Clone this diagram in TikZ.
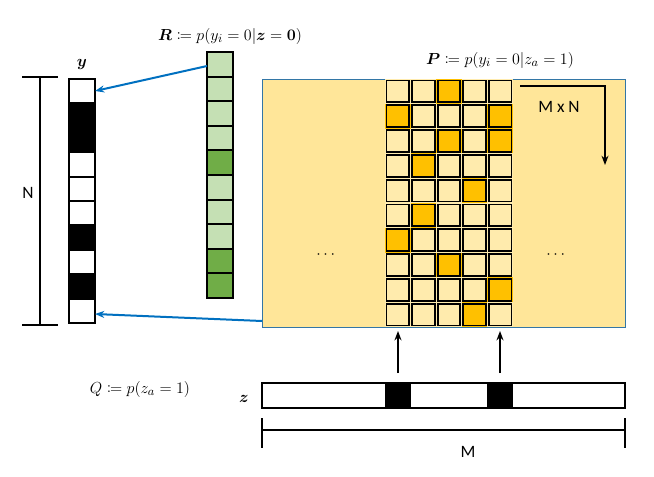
\documentclass[tikz,border=0pt]{standalone}
\usepackage{fontspec}
\usepackage{amsmath,amssymb,mathtools}
\newfontfamily\calfnt{Carlito}
\usetikzlibrary{arrows.meta}
\definecolor{bg}{HTML}{FFE699}
\definecolor{org}{HTML}{FFC000}
\definecolor{lg}{HTML}{C5E0B4}
\definecolor{dg}{HTML}{70AD47}
\definecolor{arb}{HTML}{0070C0}
\begin{document}
\begin{tikzpicture}[x=0.75pt,y=-0.75pt,
  cell/.style={draw=black,line width=1.4pt},
  blarrow/.style={draw=arb,line width=1.5pt,-{Stealth[length=7pt]}},
  karrow/.style={draw=black,line width=1.2pt,-{Stealth[length=7pt]}},
  lbl/.style={font=\fontsize{13}{15}\selectfont},
  sl/.style={font=\calfnt\fontsize{13}{15}\selectfont}]
\useasboundingbox (0,0) rectangle (654,476);
% background panel
\node[draw=arb!60!gray,fill=bg,line width=0.6pt,minimum width=363*0.75pt,minimum height=248*0.75pt,inner sep=0,anchor=north west] (P) at (262,79) {};
% P grid
\foreach \r/\cols in {0/{2},1/{0,4},2/{2,4},3/{1},4/{3},5/{1},6/{0},7/{2},8/{4},9/{3}}{
  \foreach \c in {0,...,4}{
    \fill[bg!80!white] (385+\c*25.6,79+\r*24.8) rectangle ++(25.6,24.8);
  }
  \foreach \c in \cols{
    \fill[org] (385+\c*25.6,79+\r*24.8) rectangle ++(25.6,24.8);
  }
}
\foreach \r in {0,...,9}{\foreach \c in {0,...,4}{
  \draw[cell] (385+\c*25.6+1.5,79+\r*24.8+1.5) rectangle ++(22.6,21.8);}}
\node[lbl] (dl) at (327,255) {$\cdots$};
\node[lbl] (dr) at (557,255) {$\cdots$};
% y column
\foreach \i/\f in {0/white,1/black,2/black,3/white,4/white,5/white,6/black,7/white,8/black,9/white}{
  \draw[cell,fill=\f] (69,79+\i*24.4) rectangle ++(26,24.4);}
\coordinate (ytop) at (95,91);
\coordinate (ybot) at (95,314);
\node[lbl] (ylab) at (82,64) {$\boldsymbol{y}$};
% N bracket
\draw[line width=0.8pt] (22,77) -- (58,77) (22,325) -- (58,325) (40,77) -- (40,325);
\node[sl] (Nlab) at (28,193) {N};
% green column
\foreach \i/\f in {0/lg,1/lg,2/lg,3/lg,4/dg,5/lg,6/lg,7/lg,8/dg,9/dg}{
  \draw[cell,fill=\f] (207,52+\i*24.6) rectangle ++(26,24.6);}
\coordinate (gtop) at (207,66);
\node[lbl] (Rlab) at (230,36) {$\boldsymbol{R}\coloneqq p(y_i=0|\boldsymbol{z}=\boldsymbol{0})$};
\node[lbl] (Plab) at (500,60) {$\boldsymbol{P}\coloneqq p(y_i=0|z_a=1)$};
\draw[blarrow] (gtop) -- (ytop);
\draw[blarrow] (262,321) -- (ybot);
% MxN
\draw[karrow,line width=0.9pt] (520,86) -- (605,86) -- (605,165);
\node[sl] (mxn) at (559,107) {M x N};
% z bar
\draw[line width=1.2pt] (262,383) rectangle (625,408);
\fill (385,383) rectangle (411,408);
\fill (487,383) rectangle (513,408);
\node[lbl] (zlab) at (244,399) {$\boldsymbol{z}$};
\node[lbl] (Qlab) at (140,389) {$Q\coloneqq p(z_a=1)$};
\coordinate (a1) at (398,373); \coordinate (a2) at (500,373);
\draw[karrow] (a1) -- (398,331);
\draw[karrow] (a2) -- (500,331);
% M bracket
\draw[line width=0.8pt] (262,418) -- (262,448) (625,418) -- (625,448) (262,430) -- (625,430);
\node[sl] (Mlab) at (468,452) {M};
\end{tikzpicture}
\end{document}
